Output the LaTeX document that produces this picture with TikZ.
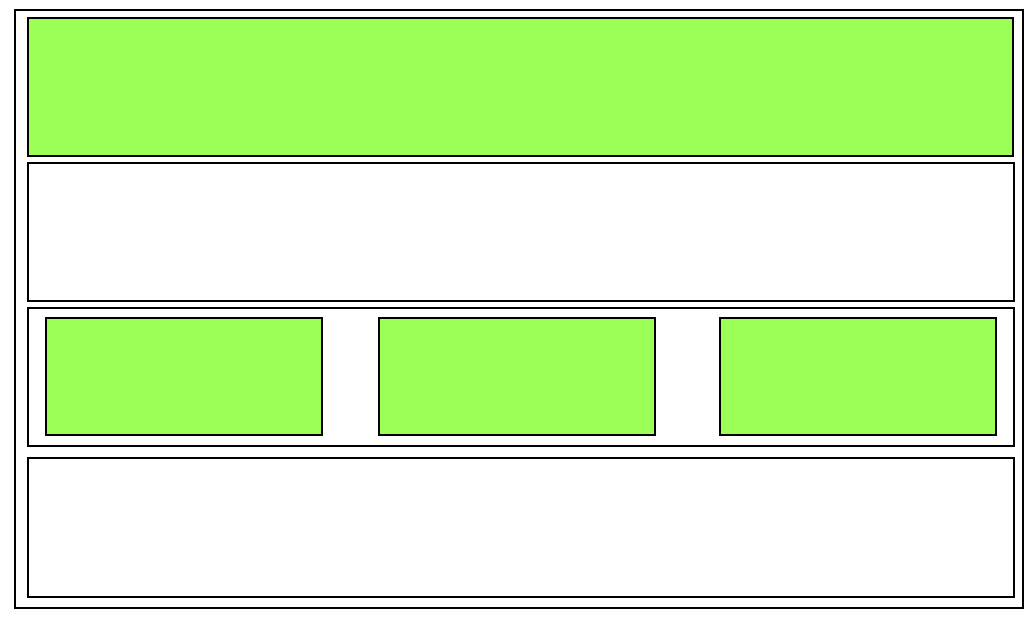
\documentclass[tikz,border=0pt]{standalone}
\begin{document}
\begin{tikzpicture}[x=1pt,y=-1pt,
  panel/.style={draw=black,line width=1.3pt,inner sep=0pt,outer sep=0pt,rectangle},
  band/.style={panel,minimum width=986pt,minimum height=138pt},
  greenfill/.style={fill=lime50},
  card/.style={panel,greenfill,minimum width=276pt,minimum height=117pt}]
\definecolor{lime50}{HTML}{9CFF57}
\colorlet{lime50}{lime50}
\useasboundingbox (0,0) rectangle (1035,621);
% outer frame
\node[panel,minimum width=1008pt,minimum height=598pt] (frame) at (519,309) {};
% header band
\node[band,greenfill,minimum width=985pt] (header) at (520.5,87) {};
% empty band
\node[band] (middle) at (521,232) {};
% band holding three cards
\node[band] (row) at (521,377) {};
\node[card] (cardA) at (184,376.5) {};
\node[card] (cardB) at (517,376.5) {};
\node[card] (cardC) at (858,376.5) {};
% footer band
\node[band,minimum height=139pt] (footer) at (521,527.5) {};
\end{tikzpicture}
\end{document}
